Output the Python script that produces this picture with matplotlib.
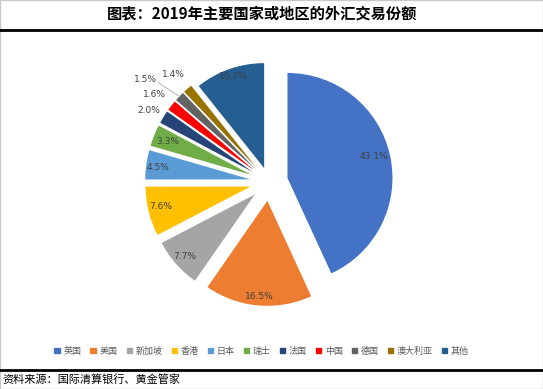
import numpy as np
import matplotlib.pyplot as plt
from matplotlib.patches import Rectangle
from matplotlib.lines import Line2D

plt.rcParams['font.family'] = ['Noto Sans CJK SC', 'DejaVu Sans']

# data
regions = ['英国', '美国', '新加坡', '香港', '日本', '瑞士', '法国', '中国', '德国', '澳大利亚', '其他']
shares = [43.1, 16.5, 7.7, 7.6, 4.5, 3.3, 2.0, 1.6, 1.5, 1.4, 10.7]
colors = ['#4472C4', '#ED7D31', '#A5A5A5', '#FFC000', '#5B9BD5', '#70AD47',
          '#264478', '#FF0000', '#636363', '#997300', '#255E91']
explode = [0.18] * 10 + [0.14]
# label placement relative to each slice (radius units / degrees)
label_dist = [0.85, 0.91, 0.89, 0.88, 0.89, 0.86, 1.15, 1.19, 1.35, 1.19, 0.92]
label_ang_shift = [1.8, 0, 0, -1, 0.5, 0.5, 0.8, 0.8, 4.5, 0.6, -0.6]

W, H = 543, 389
fig = plt.figure(figsize=(W / 100, H / 100), dpi=100)

# pie axes: centre (269,182) px, radius 105 px
cx, cy, R = 269, 182, 105
half = 140
ax = fig.add_axes([(cx - half) / W, 1 - (cy + half) / H, 2 * half / W, 2 * half / H])

wedges, _ = ax.pie(shares, colors=colors, startangle=90, counterclock=False,
                   explode=explode, radius=1.0, wedgeprops=dict(linewidth=0))
ax.set_xlim(-half / R, half / R)
ax.set_ylim(-half / R, half / R)
ax.set_aspect('equal')
ax.axis('off')

for i, w in enumerate(wedges):
    mid = np.deg2rad((w.theta1 + w.theta2) / 2)
    ox, oy = w.center
    a = mid + np.deg2rad(label_ang_shift[i])
    lx = ox + label_dist[i] * np.cos(a)
    ly = oy + label_dist[i] * np.sin(a)
    ax.text(lx, ly, f'{shares[i]:.1f}%', ha='center', va='center',
            fontsize=6.5, color='#404040', family='DejaVu Sans')
    if regions[i] == '德国':
        ex = ox + 1.0 * np.cos(mid)
        ey = oy + 1.0 * np.sin(mid)
        ax.plot([lx + 0.12, ex], [ly - 0.03, ey], color='#BFBFBF', lw=0.8)

# title and rules
fig.text(0.483, 1 - 13 / H, '图表：2019年主要国家或地区的外汇交易份额', ha='center', va='center',
         fontsize=11, fontweight='bold', color='black')
fig.add_artist(Line2D([0, 1], [1 - 30 / H, 1 - 30 / H], color='black', lw=2))
fig.add_artist(Line2D([0, 1], [1 - 370 / H, 1 - 370 / H], color='black', lw=2))
fig.text(2 / W, 1 - 380 / H, '资料来源：国际清算银行、黄金管家', ha='left', va='center',
         fontsize=8, color='black')
fig.add_artist(Rectangle((0, 0), 1, 1, transform=fig.transFigure, fill=False,
                         edgecolor='#C8C8C8', lw=1))

# legend
handles = [Rectangle((0, 0), 1, 1, color=c) for c in colors]
leg = fig.legend(handles, regions, loc='center', bbox_to_anchor=(0.482, 1 - 351 / H),
                 ncol=len(regions), frameon=False, fontsize=6.5, handlelength=0.6,
                 handleheight=0.6, handletextpad=0.4, columnspacing=1.0)
for t in leg.get_texts():
    t.set_color('#595959')

fig.savefig('out.png', dpi=100)
